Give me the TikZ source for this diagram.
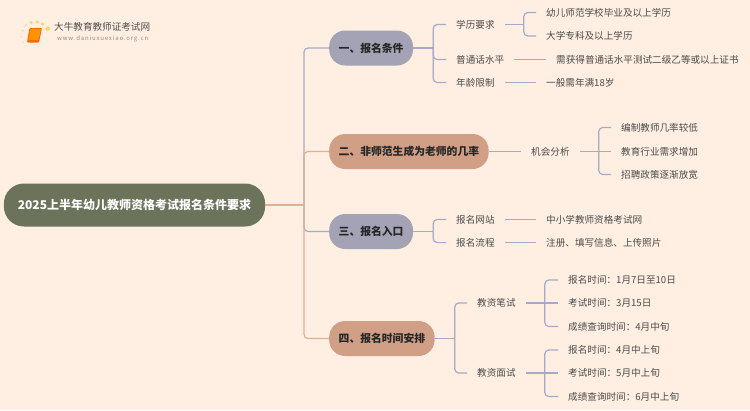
\documentclass[tikz,border=0pt]{standalone}
\usepackage{fontspec}
\setmainfont{Noto Sans CJK SC}
\newfontfamily\urlfont[LetterSpace=14]{Noto Sans CJK SC}
\usepackage{xcolor}
\definecolor{paper}{HTML}{FFEFE2}
\definecolor{rootfill}{HTML}{6B735B}
\definecolor{greyfill}{HTML}{A3A3B5}
\definecolor{tanfill}{HTML}{D19F86}
\definecolor{greyline}{HTML}{A6AAC4}
\definecolor{tanline}{HTML}{E2AE94}
\definecolor{leaftext}{HTML}{4A4A4A}
\definecolor{sundot}{HTML}{FBD46D}
\tikzset{
    rootnode/.style={fill=rootfill, rounded corners=20pt, text=white, minimum height=43pt, inner xsep=14pt, inner ysep=0pt, font=\fontsize{12}{14}\selectfont\bfseries},
    branchnode/.style={rounded corners=16pt, text=black!85, minimum height=35pt, inner xsep=9.5pt, inner ysep=0pt, anchor=west, font=\fontsize{10.8}{14}\selectfont\bfseries},
    itemnode/.style={anchor=west, inner xsep=10pt, inner ysep=0pt, text=leaftext, font=\fontsize{9.6}{12}\selectfont},
    greylink/.style={draw=greyline, line width=1.2pt, rounded corners=4pt},
    tanlink/.style={draw=tanline, line width=1.2pt, rounded corners=4pt},
}
\begin{document}
\begin{tikzpicture}[x=1pt, y=-1pt]
    \useasboundingbox[fill=paper] (0,0) rectangle (750,410);

    % logo
    \fill[sundot] (47.7,28.7) circle (2.3);
    \fill[sundot] (42.7,24) circle (1.8);
    \fill[sundot] (37.3,22) circle (1.8);
    \fill[sundot] (31.3,22.7) circle (1.8);
    \fill[sundot!80!paper] (26,25.3) circle (1.4);
    \fill[sundot!60!paper] (22.7,30.7) circle (1.2);
    \fill[sundot!50!paper] (21.3,36.7) circle (1);
    \fill[sundot!40!paper] (23.3,42.3) circle (0.8);
    \fill[orange!80!red, rounded corners=1pt] (29.5,28) -- (42,28) -- (39,42.5) -- (27,42.5) -- cycle;
    \fill[orange!85!yellow, rounded corners=0.5pt] (30.5,29) -- (41,29) -- (38.5,40) -- (28.5,40) -- cycle;
    \node[anchor=west, inner sep=0pt, text=black!70, font=\fontsize{9.6}{12}\selectfont] (logotitle) at (54,27) {大牛教育教师证考试网};
    \node[anchor=west, inner sep=0pt, text=black!45, font=\fontsize{6}{7}\selectfont\urlfont] (logourl) at (57,39) {www.daniuxuexiao.org.cn};

    % root and branches
    \node[rootnode] (root) at (134.5,205) {2025上半年幼儿教师资格考试报名条件要求};
    \coordinate (spine) at (304,205);
    \node[branchnode, fill=greyfill] (bone) at (329,48) {一、报名条件};
    \node[branchnode, fill=tanfill] (btwo) at (329,151.5) {二、非师范生成为老师的几率};
    \node[branchnode, fill=greyfill] (bthree) at (329,231.5) {三、报名入口};
    \node[branchnode, fill=tanfill] (bfour) at (329,338.5) {四、报名时间安排};

    \draw[greylink] (spine) |- (bone.west);
    \draw[greylink] (spine) |- (bthree.west);
    \draw[tanlink] (spine) |- (btwo.west);
    \draw[tanlink] (spine) |- (bfour.west);
    \draw[tanlink] (root.east) -- (spine);

    % first branch
    \node[itemnode] (xueli) at (446,24.5) {学历要求};
    \node[itemnode] (putong) at (446,59.5) {普通话水平};
    \node[itemnode] (nianling) at (446,82.5) {年龄限制};
    \node[itemnode] (youer) at (536,12.5) {幼儿师范学校毕业及以上学历};
    \node[itemnode] (daxue) at (536,36) {大学专科及以上学历};
    \node[itemnode] (erji) at (546,59.5) {需获得普通话水平测试二级乙等或以上证书};
    \node[itemnode] (yiban) at (536,82.5) {一般需年满18岁};
    \coordinate (bonefork) at ([xshift=20pt]bone.east);
    \coordinate (xuelifork) at ([xshift=19pt]xueli.east);
    \draw[greylink] (bone.east) -- (bonefork);
    \draw[greylink] (bonefork) |- (xueli.west);
    \draw[greylink] (bonefork) |- (putong.west);
    \draw[greylink] (bonefork) |- (nianling.west);
    \draw[greylink] (xueli.east) -- (xuelifork);
    \draw[greylink] (xuelifork) |- (youer.west);
    \draw[greylink] (xuelifork) |- (daxue.west);
    \draw[greylink] (putong.east) -- (erji.west);
    \draw[greylink] (nianling.east) -- (yiban.west);

    % second branch
    \node[itemnode] (jihui) at (521,151.5) {机会分析};
    \node[itemnode] (bianzhi) at (611,127.5) {编制教师几率较低};
    \node[itemnode] (hangye) at (611,151.5) {教育行业需求增加};
    \node[itemnode] (zhaopin) at (611,174.5) {招聘政策逐渐放宽};
    \coordinate (jihuifork) at ([xshift=19pt]jihui.east);
    \draw[greylink] (btwo.east) -- (jihui.west);
    \draw[greylink] (jihui.east) -- (hangye.west);
    \draw[greylink] (jihuifork) |- (bianzhi.west);
    \draw[greylink] (jihuifork) |- (zhaopin.west);

    % third branch
    \node[itemnode] (wangzhan) at (446,219.5) {报名网站};
    \node[itemnode] (liucheng) at (446,242.6) {报名流程};
    \node[itemnode] (zhongxiao) at (536,219.5) {中小学教师资格考试网};
    \node[itemnode] (zhuce) at (536,242.6) {注册、填写信息、上传照片};
    \coordinate (bthreefork) at ([xshift=20pt]bthree.east);
    \draw[greylink] (bthree.east) -- (bthreefork);
    \draw[greylink] (bthreefork) |- (wangzhan.west);
    \draw[greylink] (bthreefork) |- (liucheng.west);
    \draw[greylink] (wangzhan.east) -- (zhongxiao.west);
    \draw[greylink] (liucheng.east) -- (zhuce.west);

    % fourth branch
    \node[itemnode] (bishi) at (467,303) {教资笔试};
    \node[itemnode] (mianshi) at (467,373) {教资面试};
    \node[itemnode] (bione) at (558,280) {报名时间：1月7日至10日};
    \node[itemnode] (bitwo) at (558,303) {考试时间：3月15日};
    \node[itemnode] (bithree) at (558,326.5) {成绩查询时间：4月中旬};
    \node[itemnode] (mianone) at (558,350) {报名时间：4月中上旬};
    \node[itemnode] (miantwo) at (558,373) {考试时间：5月中上旬};
    \node[itemnode] (mianthree) at (558,396.5) {成绩查询时间：6月中上旬};
    \coordinate (bfourfork) at ([xshift=20pt]bfour.east);
    \coordinate (bishifork) at ([xshift=19pt]bishi.east);
    \coordinate (mianshifork) at ([xshift=19pt]mianshi.east);
    \draw[greylink] (bfour.east) -- (bfourfork);
    \draw[greylink] (bfourfork) |- (bishi.west);
    \draw[greylink] (bfourfork) |- (mianshi.west);
    \draw[greylink] (bishi.east) -- (bitwo.west);
    \draw[greylink] (bishifork) |- (bione.west);
    \draw[greylink] (bishifork) |- (bithree.west);
    \draw[greylink] (mianshi.east) -- (miantwo.west);
    \draw[greylink] (mianshifork) |- (mianone.west);
    \draw[greylink] (mianshifork) |- (mianthree.west);
\end{tikzpicture}
\end{document}
